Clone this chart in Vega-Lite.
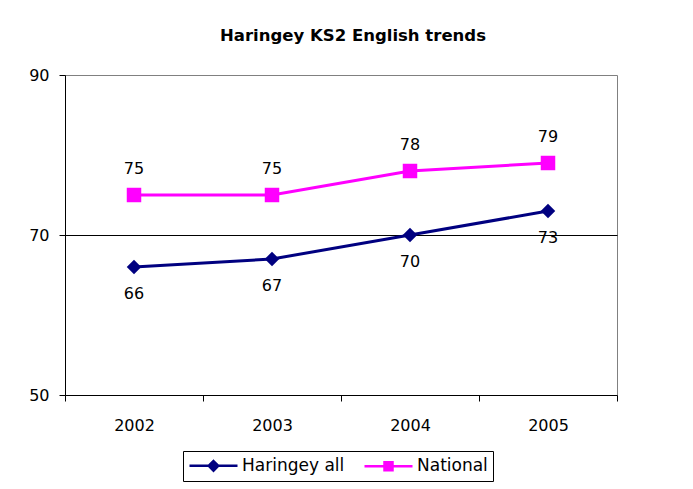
{
  "$schema": "https://vega.github.io/schema/vega-lite/v6.json",
  "width": 552,
  "height": 320,
  "autosize": {"type": "none"},
  "padding": {"left": 65, "top": 75, "right": 76, "bottom": 94},
  "background": "white",
  "title": {
    "text": "Haringey KS2 English trends",
    "font": "DejaVu Sans",
    "fontSize": 16.5,
    "fontWeight": "bold",
    "color": "black",
    "anchor": "middle",
    "dx": 12,
    "offset": 23
  },
  "data": {
    "values": [
      {"year": "2002", "series": "Haringey all", "value": 66},
      {"year": "2003", "series": "Haringey all", "value": 67},
      {"year": "2004", "series": "Haringey all", "value": 70},
      {"year": "2005", "series": "Haringey all", "value": 73},
      {"year": "2002", "series": "National", "value": 75},
      {"year": "2003", "series": "National", "value": 75},
      {"year": "2004", "series": "National", "value": 78},
      {"year": "2005", "series": "National", "value": 79}
    ]
  },
  "encoding": {
    "x": {
      "field": "year",
      "type": "ordinal",
      "scale": {"paddingInner": 0, "paddingOuter": 0},
      "axis": {
        "title": null,
        "labelAngle": 0,
        "tickBand": "extent",
        "tickSize": 6,
        "tickColor": "black",
        "domainColor": "black",
        "labelPadding": 16,
        "labelFont": "DejaVu Sans",
        "labelFontSize": 16,
        "labelColor": "black",
        "grid": false
      }
    },
    "y": {
      "field": "value",
      "type": "quantitative",
      "scale": {"domain": [50, 90], "nice": false, "zero": false},
      "axis": {
        "title": null,
        "values": [50, 70, 90],
        "tickSize": 6,
        "tickColor": "black",
        "domainColor": "black",
        "labelPadding": 10,
        "labelFont": "DejaVu Sans",
        "labelFontSize": 16,
        "labelColor": "black",
        "grid": true,
        "gridColor": "black",
        "gridOpacity": {"condition": {"test": "datum.value === 70", "value": 1}, "value": 0}
      }
    }
  },
  "layer": [
    {
      "mark": {"type": "line", "strokeWidth": 3},
      "encoding": {
        "color": {
          "field": "series",
          "type": "nominal",
          "scale": {"domain": ["Haringey all", "National"], "range": ["#000080", "#FF00FF"]},
          "legend": {
            "orient": "none",
            "legendX": 118,
            "legendY": 376,
            "title": null,
            "direction": "horizontal",
            "strokeColor": "black",
            "fillColor": "white",
            "padding": 5,
            "symbolSize": 256,
            "symbolStrokeWidth": 2.5,
            "symbolType": "M-1,0H5",
            "labelFont": "DejaVu Sans",
            "labelFontSize": 17,
            "labelColor": "black",
            "labelOffset": 35,
            "columnPadding": 14,
            "encode": {
              "symbols": {
                "update": {
                  "shape": {"signal": "datum.value === 'National' ? 'M-1,0H5M1.5,-0.5H2.5V0.5H1.5Z' : 'M-1,0H5M2,-0.6L2.6,0L2,0.6L1.4,0Z'"},
                  "fill": {"scale": "color", "field": "value"},
                  "stroke": {"scale": "color", "field": "value"},
                  "opacity": {"value": 1}
                }
              }
            }
          }
        }
      }
    },
    {
      "transform": [{"filter": "datum.series === 'Haringey all'"}],
      "mark": {"type": "point", "shape": "diamond", "filled": true, "opacity": 1, "size": 210},
      "encoding": {"color": {"field": "series", "type": "nominal"}}
    },
    {
      "transform": [{"filter": "datum.series === 'National'"}],
      "mark": {"type": "point", "shape": "square", "filled": true, "opacity": 1, "size": 210},
      "encoding": {"color": {"field": "series", "type": "nominal"}}
    },
    {
      "transform": [{"filter": "datum.series === 'National'"}],
      "mark": {"type": "text", "dy": -26, "font": "DejaVu Sans", "fontSize": 16, "color": "black"},
      "encoding": {"text": {"field": "value", "type": "quantitative"}}
    },
    {
      "transform": [{"filter": "datum.series === 'Haringey all'"}],
      "mark": {"type": "text", "dy": 27, "font": "DejaVu Sans", "fontSize": 16, "color": "black"},
      "encoding": {"text": {"field": "value", "type": "quantitative"}}
    }
  ],
  "config": {
    "view": {"stroke": "#808080", "strokeWidth": 1},
    "axis": {"domainWidth": 1, "tickWidth": 1}
  }
}
